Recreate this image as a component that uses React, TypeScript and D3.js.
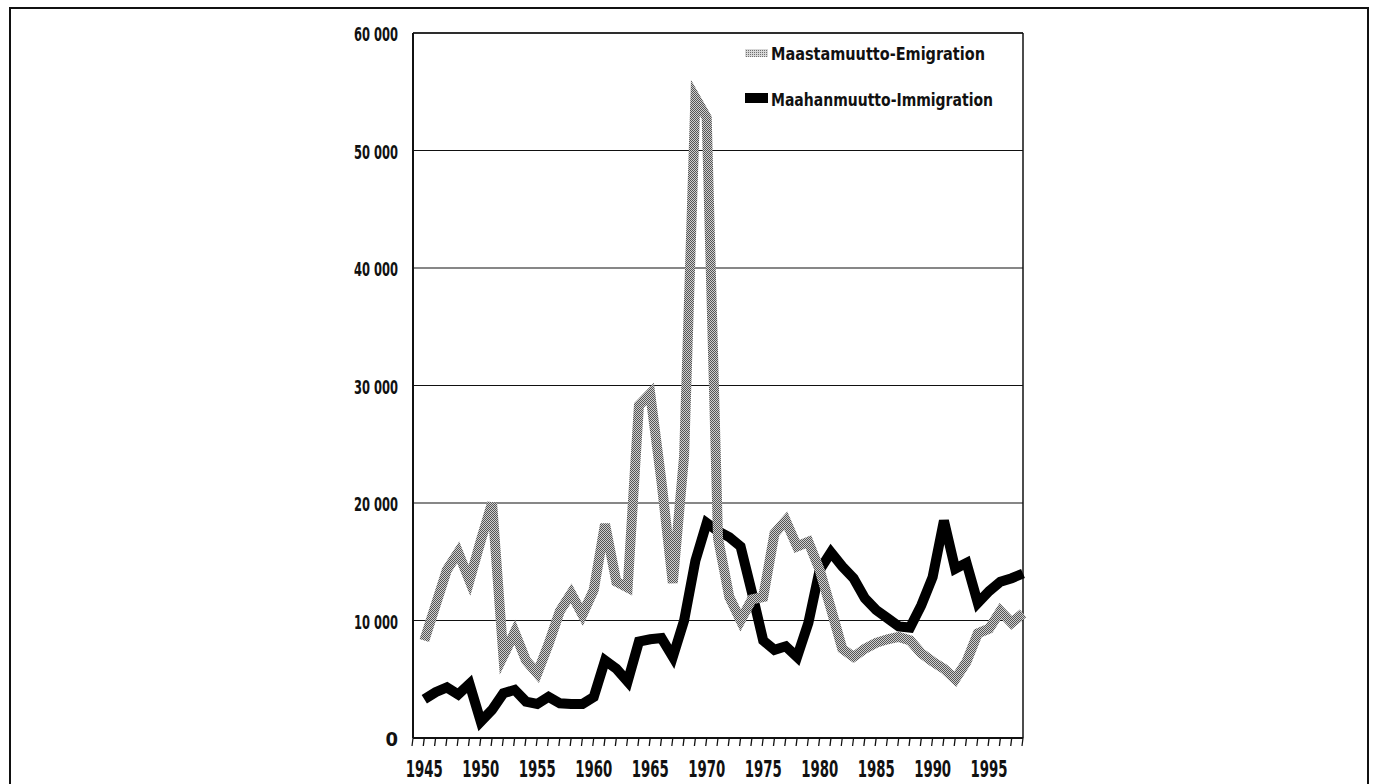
import React from "react";
import * as d3 from "d3";

const years = [
  1945, 1946, 1947, 1948, 1949, 1950, 1951, 1952, 1953, 1954,
  1955, 1956, 1957, 1958, 1959, 1960, 1961, 1962, 1963, 1964,
  1965, 1966, 1967, 1968, 1969, 1970, 1971, 1972, 1973, 1974,
  1975, 1976, 1977, 1978, 1979, 1980, 1981, 1982, 1983, 1984,
  1985, 1986, 1987, 1988, 1989, 1990, 1991, 1992, 1993, 1994,
  1995, 1996, 1997, 1998,
];

// Maastamuutto-Emigration
const emigration = [
  8300, 11300, 14300, 15800, 13400, 16800, 20000, 7000, 9000, 6600,
  5500, 8000, 10800, 12300, 10500, 12600, 18200, 13300, 12800, 28300,
  29300, 21800, 13200, 24000, 54500, 52800, 17000, 12000, 10000, 11800,
  12000, 17400, 18500, 16300, 16700, 14300, 11000, 7600, 6900, 7600,
  8100, 8400, 8600, 8300, 7200, 6500, 5900, 5000, 6500, 8900,
  9300, 10800, 9800, 10600,
];

// Maahanmuutto-Immigration
const immigration = [
  3300, 3900, 4300, 3700, 4600, 1400, 2400, 3800, 4100, 3100,
  2900, 3500, 2950, 2900, 2900, 3500, 6600, 5900, 4800, 8200,
  8400, 8500, 6900, 10000, 15100, 18300, 17600, 17100, 16300, 12400,
  8300, 7500, 7800, 6900, 9800, 14300, 15800, 14600, 13600, 11900,
  10900, 10200, 9500, 9400, 11300, 13700, 18500, 14400, 14900, 11500,
  12500, 13300, 13600, 14000,
];

const yTicks = [0, 10000, 20000, 30000, 40000, 50000, 60000];
const xLabelYears = [1945, 1950, 1955, 1960, 1965, 1970, 1975, 1980, 1985, 1990, 1995];
const legendLabels = ["Maastamuutto-Emigration", "Maahanmuutto-Immigration"];

const W = 1374;
const H = 784;
const FONT = "'Liberation Sans Narrow', 'DejaVu Sans Condensed', 'Liberation Sans', sans-serif";

export default function App() {
  const x = d3.scaleLinear().domain([1944, 1998]).range([413, 1023]);
  const y = d3.scaleLinear().domain([0, 60000]).range([738, 33]);
  const fmt = d3.formatLocale({ thousands: " ", grouping: [3], decimal: ",", currency: ["", ""] }).format(",");

  const line = d3
    .line<number>()
    .x((_, i) => x(years[i]))
    .y((d) => y(d));

  const tickYears = d3.range(1944, 1999);
  const [x0, x1] = x.range();
  const [yb, yt] = y.range();

  return (
    <svg
      width={W}
      height={H}
      style={{ position: "absolute", left: 0, top: 0, background: "#fff" }}
    >
      <defs>
        <pattern id="dither" width="2" height="2" patternUnits="userSpaceOnUse">
          <rect x="0" y="0" width="2" height="2" fill="#cfcfcf" />
          <rect x="0" y="0" width="1" height="1" fill="#555" />
          <rect x="1" y="1" width="1" height="1" fill="#555" />
        </pattern>
        <pattern id="ditherLight" width="2" height="2" patternUnits="userSpaceOnUse">
          <rect x="0" y="0" width="2" height="2" fill="#d8d8d8" />
          <rect x="0" y="0" width="1" height="1" fill="#707070" />
        </pattern>
      </defs>

      {/* page frame */}
      <rect x={10} y={8} width={1358} height={800} fill="none" stroke="#111" strokeWidth={2} />

      {/* gridlines */}
      {yTicks.map((t) => (
        <line key={t} x1={x0} x2={x1} y1={y(t)} y2={y(t)} stroke="#111" strokeWidth={1.2} />
      ))}

      {/* plot frame */}
      <line x1={x1} x2={x1} y1={yt} y2={yb} stroke="#111" strokeWidth={1.5} />
      <line x1={x0} x2={x1} y1={yt} y2={yt} stroke="#111" strokeWidth={1.5} />
      <line x1={x0} x2={x0} y1={yt} y2={yb} stroke="#111" strokeWidth={2} />
      <line x1={x0} x2={x1} y1={yb} y2={yb} stroke="#111" strokeWidth={2} />

      {/* x ticks */}
      {tickYears.map((t) => (
        <line key={t} x1={x(t)} x2={x(t) - 1} y1={yb} y2={yb + 8} stroke="#111" strokeWidth={1.3} />
      ))}

      {/* y labels */}
      {yTicks.map((t) => {
        const s = fmt(t);
        return (
          <text
            key={t}
            x={398}
            y={y(t) + 8}
            textAnchor="end"
            fontFamily={FONT}
            fontWeight="bold"
            fontSize={20}
            fill="#111"
            textLength={s.length > 1 ? 44 : undefined}
            lengthAdjust="spacingAndGlyphs"
          >
            {s}
          </text>
        );
      })}

      {/* x labels */}
      {xLabelYears.map((t) => (
        <text
          key={t}
          x={x(t)}
          y={777}
          textAnchor="middle"
          fontFamily={FONT}
          fontWeight="bold"
          fontSize={23}
          fill="#111"
          textLength={37}
          lengthAdjust="spacingAndGlyphs"
        >
          {t}
        </text>
      ))}

      {/* series */}
      <path d={line(immigration) || ""} fill="none" stroke="#000" strokeWidth={10} strokeLinejoin="miter" />
      <path d={line(emigration) || ""} fill="none" stroke="url(#dither)" strokeWidth={10} strokeLinejoin="miter" />

      {/* legend */}
      <rect x={745} y={49} width={23} height={8} fill="url(#ditherLight)" />
      <text x={771} y={60} fontFamily={FONT} fontWeight="bold" fontSize={18.5} fill="#111" textLength={214} lengthAdjust="spacingAndGlyphs">
        {legendLabels[0]}
      </text>
      <rect x={745} y={93} width={23} height={10} fill="#000" />
      <text x={771} y={105.5} fontFamily={FONT} fontWeight="bold" fontSize={18.5} fill="#111" textLength={222} lengthAdjust="spacingAndGlyphs">
        {legendLabels[1]}
      </text>
    </svg>
  );
}
